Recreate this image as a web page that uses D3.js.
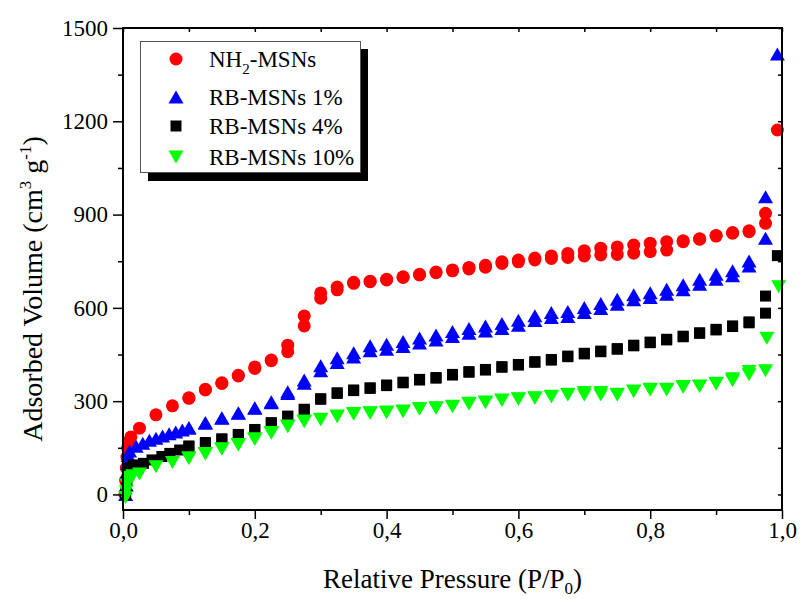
<!DOCTYPE html>
<html>
<head>
<meta charset="utf-8">
<script src="https://cdn.jsdelivr.net/npm/d3@7"></script>
<style>
  body { margin: 0; background: #fff; }
  text { font-family: "Liberation Serif", "Times New Roman", serif; fill: #000; }
</style>
</head>
<body>
<div id="chart"></div>
<script>
// ---- data (P/P0 vs adsorbed volume, cm3/g) ----
var nhAdsP = [0.003,0.004,0.005,0.006,0.007,0.009,0.012,0.025,0.05,0.075,0.1,0.125,0.15,0.175,0.2,0.225,0.25,0.275,0.3,0.325,0.35,0.375,0.4,0.425,0.45,0.475,0.5,0.525,0.55,0.575,0.6,0.625,0.65,0.675,0.7,0.725,0.75,0.775,0.8,0.825,0.85,0.875,0.9,0.925,0.95,0.975,0.993];
var nhAdsV = [0,45,85,120,150,170,185,213,256,285,309,336,357,381,405,430,459,542,631,658,679,684,690,698,706,713,719,725,731,743,748,754,759,762,767,770,772,776,781,786,813,821,831,840,845,872,1172];
var nhDesP = [0.975,0.95,0.925,0.9,0.875,0.85,0.825,0.8,0.775,0.75,0.725,0.7,0.675,0.65,0.625,0.6,0.575,0.55,0.525,0.5,0.475,0.45,0.425,0.4,0.375,0.35,0.325,0.3,0.275,0.25,0.225,0.2,0.175,0.15,0.125,0.1];
var nhDesV = [904,848,842,833,822,816,813,808,802,796,792,784,775,767,760,754,748,737,730,722,715,708,700,692,686,682,667,648,574,480,432,410,383,359,338,311];

var rb1AdsP = [0.004,0.005,0.006,0.007,0.008,0.01,0.02,0.03,0.04,0.05,0.06,0.07,0.08,0.09,0.1,0.125,0.15,0.175,0.2,0.225,0.25,0.275,0.3,0.325,0.35,0.375,0.4,0.425,0.45,0.475,0.5,0.525,0.55,0.575,0.6,0.625,0.65,0.675,0.7,0.725,0.75,0.775,0.8,0.825,0.85,0.875,0.9,0.925,0.95,0.975,0.993];
var rb1AdsV = [0,30,70,100,125,140,155,165,174,181,188,195,201,207,213,229,245,261,277,295,325,358,398,424,442,462,467,476,487,497,508,518,526,534,544,559,569,572,585,598,612,626,633,644,658,676,692,703,735,824,1416];
var rb1DesP = [0.975,0.95,0.925,0.9,0.875,0.85,0.825,0.8,0.775,0.75,0.725,0.7,0.675,0.65,0.625,0.6,0.575,0.55,0.525,0.5,0.475,0.45,0.425,0.4,0.375,0.35,0.325,0.3,0.275,0.25,0.225,0.2,0.175,0.15,0.125,0.1];
var rb1DesV = [957,751,719,708,692,674,660,649,642,628,614,601,588,585,575,560,550,542,534,524,513,503,492,483,478,456,440,414,368,330,298,279,263,247,231,215];

var rb4AdsP = [0.004,0.005,0.006,0.008,0.01,0.016,0.031,0.044,0.059,0.071,0.086,0.1,0.125,0.15,0.175,0.2,0.225,0.25,0.275,0.3,0.325,0.35,0.375,0.4,0.425,0.45,0.475,0.5,0.525,0.55,0.575,0.6,0.625,0.65,0.675,0.7,0.725,0.75,0.775,0.8,0.825,0.85,0.875,0.9,0.925,0.95,0.975,0.993];
var rb4AdsV = [0,20,45,70,85,95,100,111,122,132,143,154,165,177,191,207,229,250,272,306,325,334,341,350,359,368,374,384,393,400,409,416,425,432,443,452,459,467,478,488,497,507,518,529,540,552,583,768];
var rb4DesP = [0.975,0.95,0.925,0.9,0.875,0.85,0.825,0.8,0.775,0.75,0.725,0.7,0.675,0.65,0.625,0.6,0.575,0.55,0.525,0.5,0.475,0.45,0.425,0.4,0.375,0.35,0.325,0.3,0.275,0.25,0.225,0.2,0.175,0.15,0.125,0.1];
var rb4DesV = [638,555,542,531,520,509,499,490,480,469,461,454,445,434,427,418,411,402,395,386,376,370,361,352,343,336,327,308,274,252,231,209,193,179,167,156];

var rb10AdsP = [0.004,0.005,0.006,0.008,0.01,0.015,0.025,0.05,0.075,0.1,0.125,0.15,0.175,0.2,0.225,0.25,0.275,0.3,0.325,0.35,0.375,0.4,0.425,0.45,0.475,0.5,0.525,0.55,0.575,0.6,0.625,0.65,0.675,0.7,0.725,0.75,0.775,0.8,0.825,0.85,0.875,0.9,0.925,0.95,0.975,0.995];
var rb10AdsV = [-10,10,30,45,55,60,66,89,103,116,130,145,159,177,197,218,234,240,250,258,261,263,266,274,277,282,291,295,302,306,309,314,320,320,320,320,331,336,336,345,347,355,366,385,398,668];
var rb10DesP = [0.977,0.95,0.925,0.9,0.875,0.85,0.825,0.8,0.775,0.75,0.725,0.7,0.675,0.65,0.625,0.6,0.575,0.55,0.525,0.5,0.475,0.45,0.425,0.4,0.375,0.35,0.325,0.3,0.275,0.25,0.225,0.2,0.175,0.15,0.125,0.1];
var rb10DesV = [502,395,372,358,349,347,338,338,333,322,328,328,322,316,311,308,304,297,293,284,279,276,268,265,263,260,252,242,236,220,199,179,161,147,132,118];

var xTicks = [0, 0.2, 0.4, 0.6, 0.8, 1.0];
var yTicks = [0, 300, 600, 900, 1200, 1500];

var svgWidth = 800;
var svgHeight = 599;
var plot = { left: 123, right: 782, top: 28, bottom: 510 };

var svg = d3.select("#chart")
  .append("svg")
  .attr("width", svgWidth)
  .attr("height", svgHeight);

var x = d3.scaleLinear().domain([0, 1]).range([plot.left, plot.right]);
var y = d3.scaleLinear().domain([-50, 1500]).range([plot.bottom, plot.top]);

// marker shapes, centred on their bounding box
function marker(sel, shape, color) {
  if (shape === "circle") {
    sel.append("circle").attr("r", 6.5).attr("fill", color);
  } else if (shape === "square") {
    sel.append("rect").attr("x", -5.5).attr("y", -5.5).attr("width", 11).attr("height", 11).attr("fill", color);
  } else if (shape === "up") {
    sel.append("path").attr("d", "M0,-6.5L7.5,6.5L-7.5,6.5Z").attr("fill", color);
  } else {
    sel.append("path").attr("d", "M-7.5,-6.5L7.5,-6.5L0,6.5Z").attr("fill", color);
  }
}

var series = [
  { name: "NH2-MSNs", shape: "circle", color: "#ff0000", ap: nhAdsP, av: nhAdsV, dp: nhDesP, dv: nhDesV },
  { name: "RB-MSNs 1%", shape: "up", color: "#0000ff", ap: rb1AdsP, av: rb1AdsV, dp: rb1DesP, dv: rb1DesV },
  { name: "RB-MSNs 4%", shape: "square", color: "#000000", ap: rb4AdsP, av: rb4AdsV, dp: rb4DesP, dv: rb4DesV },
  { name: "RB-MSNs 10%", shape: "down", color: "#00ff00", ap: rb10AdsP, av: rb10AdsV, dp: rb10DesP, dv: rb10DesV }
];

// points
series.forEach(function(s) {
  var pts = s.ap.map(function(p, i) { return [p, s.av[i]]; })
    .concat(s.dp.map(function(p, i) { return [p, s.dv[i]]; }));
  var g = svg.append("g");
  pts.forEach(function(d) {
    var m = g.append("g").attr("transform", "translate(" + x(d[0]) + "," + y(d[1]) + ")");
    marker(m, s.shape, s.color);
  });
});

// axes
var fmtX = function(d) { return d3.format(".1f")(d).replace(".", ","); };

svg.append("g")
  .attr("transform", "translate(0," + plot.bottom + ")")
  .call(d3.axisBottom(x).tickValues(xTicks).tickFormat(fmtX).tickSize(9).tickPadding(3))
  .call(function(g) { g.select(".domain").remove(); });
svg.append("g")
  .attr("transform", "translate(0," + plot.bottom + ")")
  .call(d3.axisBottom(x).tickValues([0.1, 0.3, 0.5, 0.7, 0.9]).tickFormat("").tickSize(5))
  .call(function(g) { g.select(".domain").remove(); });

svg.append("g")
  .attr("transform", "translate(" + plot.left + ",0)")
  .call(d3.axisLeft(y).tickValues(yTicks).tickFormat(d3.format("d")).tickSize(10).tickPadding(5))
  .call(function(g) { g.select(".domain").remove(); });
svg.append("g")
  .attr("transform", "translate(" + plot.left + ",0)")
  .call(d3.axisLeft(y).tickValues([150, 450, 750, 1050, 1350]).tickFormat("").tickSize(5))
  .call(function(g) { g.select(".domain").remove(); });

// mirrored inner ticks on top and right
svg.append("g")
  .attr("transform", "translate(0," + plot.top + ")")
  .call(d3.axisBottom(x).tickValues(d3.range(0, 1.01, 0.1)).tickFormat("").tickSize(4))
  .call(function(g) { g.select(".domain").remove(); });
svg.append("g")
  .attr("transform", "translate(" + plot.right + ",0)")
  .call(d3.axisLeft(y).tickValues(d3.range(0, 1501, 150)).tickFormat("").tickSize(-4).tickSizeInner(4))
  .call(function(g) { g.select(".domain").remove(); });
svg.selectAll("g.tick line").attr("stroke", "#000").attr("stroke-width", 1.5);
svg.selectAll("g.tick text").style("font-size", "23px").style("font-family", "'Liberation Serif', serif");

svg.append("rect")
  .attr("x", plot.left).attr("y", plot.top)
  .attr("width", plot.right - plot.left).attr("height", plot.bottom - plot.top)
  .attr("fill", "none").attr("stroke", "#000").attr("stroke-width", 2);

// axis titles
var xTitle = svg.append("text")
  .attr("x", (plot.left + plot.right) / 2).attr("y", 588)
  .attr("text-anchor", "middle").style("font-size", "27px");
xTitle.append("tspan").text("Relative Pressure (P/P");
xTitle.append("tspan").attr("dy", 6).style("font-size", "17px").text("0");
xTitle.append("tspan").attr("dy", -6).text(")");

var yTitle = svg.append("text")
  .attr("transform", "translate(42,289) rotate(-90)")
  .attr("text-anchor", "middle").style("font-size", "28px");
yTitle.append("tspan").text("Adsorbed Volume (cm");
yTitle.append("tspan").attr("dy", -11).style("font-size", "17px").text("3");
yTitle.append("tspan").attr("dy", 11).text(" g");
yTitle.append("tspan").attr("dy", -11).style("font-size", "17px").text("-1");
yTitle.append("tspan").attr("dy", 11).text(")");

// legend
var legend = svg.append("g");
legend.append("rect").attr("x", 148).attr("y", 49).attr("width", 220).attr("height", 132).attr("fill", "#000");
legend.append("rect").attr("x", 140.5).attr("y", 41.5).attr("width", 220).attr("height", 131)
  .attr("fill", "#fff").attr("stroke", "#555").attr("stroke-width", 1);

var legendRows = [59, 97, 126, 157];
var legendBase = [66.5, 105, 133.5, 165];
series.forEach(function(s, i) {
  var m = legend.append("g").attr("transform", "translate(176," + legendRows[i] + ")");
  marker(m, s.shape, s.color);
  var t = legend.append("text").attr("x", 209).attr("y", legendBase[i]).style("font-size", "23px");
  if (i === 0) {
    t.append("tspan").text("NH");
    t.append("tspan").attr("dy", 7).style("font-size", "15px").text("2");
    t.append("tspan").attr("dy", -7).text("-MSNs");
  } else {
    t.text(s.name);
  }
});
</script>
</body>
</html>
